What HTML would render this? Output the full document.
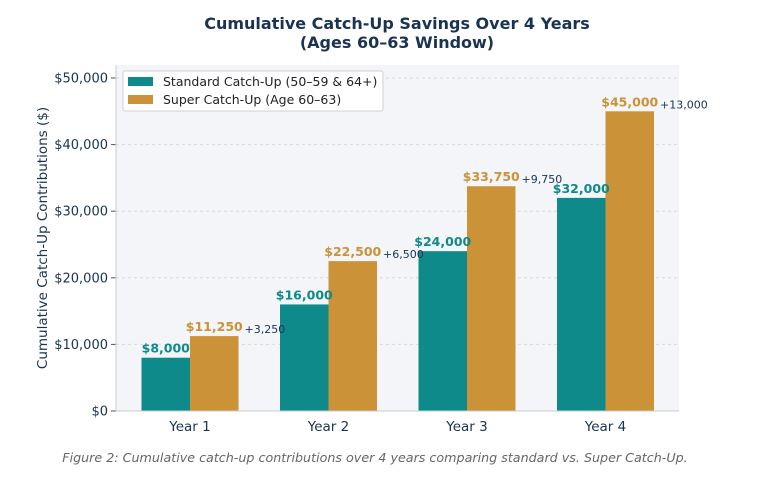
<!DOCTYPE html>
<html><head><meta charset="utf-8"><style>
body{margin:0;background:#fff;width:780px;height:479px;overflow:hidden}
text{font-family:"DejaVu Sans","Liberation Sans",sans-serif}
</style></head><body>
<svg id="chart" width="780" height="479">
<text x="397" y="29" text-anchor="middle" font-size="16" font-weight="bold" fill="#1a3353">Cumulative Catch-Up Savings Over 4 Years</text>
<text x="397" y="48" text-anchor="middle" font-size="16" font-weight="bold" fill="#1a3353">(Ages 60–63 Window)</text>
<rect x="116" y="65" width="563" height="346" fill="#f3f5f9"/>
<g id="grid"></g><g id="bars"></g><g id="labels"></g>
<line x1="116" y1="65" x2="116" y2="411" stroke="#c8ccd4"/>
<line x1="116" y1="411" x2="679" y2="411" stroke="#c8ccd4"/>
<text transform="translate(47,238) rotate(-90)" text-anchor="middle" font-size="13.5" fill="#1a3353">Cumulative Catch-Up Contributions ($)</text>
<g>
<rect x="123" y="71" width="260" height="40" fill="#fff" stroke="#d0d0d0" rx="2"/>
<rect x="128" y="77" width="25" height="9" fill="#0e8a8a"/>
<text x="163" y="86" font-size="12.5" fill="#222">Standard Catch-Up (50–59 &amp; 64+)</text>
<rect x="128" y="95" width="25" height="9" fill="#cc9238"/>
<text x="163" y="104" font-size="12.5" fill="#222">Super Catch-Up (Age 60–63)</text>
</g>
<text x="375" y="462" text-anchor="middle" font-size="12.7" font-style="italic" fill="#666">Figure 2: Cumulative catch-up contributions over 4 years comparing standard vs. Super Catch-Up.</text>
</svg>
<script>
const categories=["Year 1","Year 2","Year 3","Year 4"];
const standardValues=[8000,16000,24000,32000];
const superValues=[11250,22500,33750,45000];
const yTicks=[0,10000,20000,30000,40000,50000];
const NS="http://www.w3.org/2000/svg";
const y=v=>411-v*(333/50000);
const xc=i=>190+i*138.5;
const bw=48.5;
const fmt=v=>"$"+v.toLocaleString("en-US");
function mk(tag,attrs,parent,txt){const e=document.createElementNS(NS,tag);for(const k in attrs)e.setAttribute(k,attrs[k]);if(txt!==undefined)e.textContent=txt;document.getElementById(parent).appendChild(e);return e;}
yTicks.forEach((t,i)=>{
 const g=mk("line",{x1:116,x2:679,y1:y(t),y2:y(t),stroke:"#d5dae3","stroke-dasharray":"3,3"},"grid");
 
 
 const tk=mk("line",{x1:111,x2:116,y1:y(t),y2:y(t),stroke:"#555"},"grid");
 
 
 const l=mk("text",{x:108,y:y(t)+4.5,"text-anchor":"end","font-size":13,fill:"#1a3353"},"grid",fmt(t));
 
 
});
categories.forEach((c,i)=>{
 const s=standardValues[i],p=superValues[i],x=xc(i);
 const b1=mk("rect",{x:x-bw,y:y(s),width:bw,height:411-y(s),fill:"#0e8a8a"},"bars");
 
 
 const b2=mk("rect",{x:x,y:y(p),width:bw,height:411-y(p),fill:"#cc9238"},"bars");
 
 
 const l1=mk("text",{x:x-bw/2,y:y(s)-5,"text-anchor":"middle","font-size":12.5,"font-weight":"bold",fill:"#0e8a8a"},"labels",fmt(s));
 
 
 const l2=mk("text",{x:x+bw/2,y:y(p)-5,"text-anchor":"middle","font-size":12.5,"font-weight":"bold",fill:"#cc9238"},"labels",fmt(p));
 
 
 const d=mk("text",{x:x+bw+6,y:y(p)-3,"font-size":11,fill:"#1a3353"},"labels","+"+(p-s).toLocaleString("en-US"));
 
 
 const cl=mk("text",{x:x,y:431,"text-anchor":"middle","font-size":13.5,fill:"#1a3353"},"labels",c);
 
 
});
</script>
</body></html>
